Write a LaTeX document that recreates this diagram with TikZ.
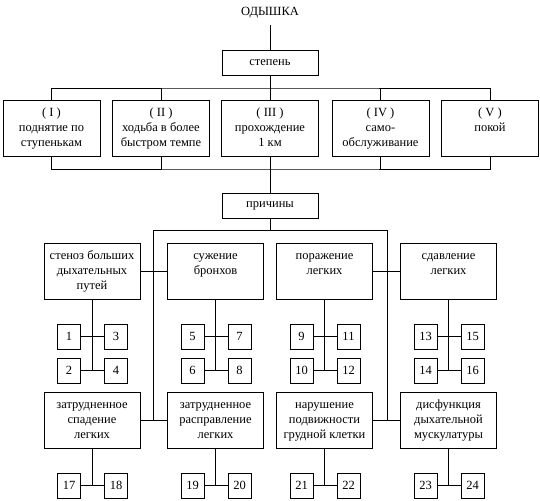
\documentclass[tikz,border=0pt]{standalone}
\usepackage{fontspec}
\setmainfont{Liberation Serif}
\begin{document}
\begin{tikzpicture}[x=1pt,y=-1pt,
  every node/.style={font=\fontsize{12.5}{15}\selectfont},
  ln/.style={line width=0.8pt},
  bigbox/.style={draw, line width=0.8pt, minimum width=97pt, minimum height=56pt, inner sep=0pt},
  midbox/.style={draw, line width=0.8pt, minimum width=96pt, minimum height=25pt, inner sep=0pt},
  sbox/.style={draw, line width=0.8pt, minimum width=23pt, minimum height=25pt, inner sep=0pt},
  txt/.style={anchor=north, align=center, inner sep=0pt, yshift=-6.5pt}
]
\useasboundingbox (0,0) rectangle (540,500);

% title and degree
\node[inner sep=0pt, minimum height=24pt] (title) at (270,13) {ОДЫШКА};
\node[midbox] (st) at (270,62.5) {степень};
\draw[ln] (title.south) -- (st.north);

% grade boxes
\node[bigbox] (g1) at (51.5,128) {};
\node[bigbox] (g2) at (161,128) {};
\node[bigbox] (g3) at (270,128) {};
\node[bigbox] (g4) at (380.5,128) {};
\node[bigbox] (g5) at (490,128) {};
\node[txt] (g1t) at (g1.north) {\strut( I )\\поднятие по\\ступенькам};
\node[txt] (g2t) at (g2.north) {\strut( II )\\ходьба в более\\быстром темпе};
\node[txt] (g3t) at (g3.north) {\strut( III )\\прохождение\\1 км};
\node[txt] (g4t) at (g4.north) {\strut( IV )\\само-\\обслуживание};
\node[txt] (g5t) at (g5.north) {\strut( V )\\покой};

\coordinate (bus1) at (270,88);
\coordinate (bus2) at (270,169);
\draw[ln] (st.south) -- (bus1);
\draw[ln] (g1.north) |- (bus1) -| (g5.north);
\draw[ln] (g2.north) -- (g2.north |- bus1);
\draw[ln] (g3.north) -- (bus1);
\draw[ln] (g4.north) -- (g4.north |- bus1);
\draw[ln] (g1.south) |- (bus2) -| (g5.south);
\draw[ln] (g2.south) -- (g2.south |- bus2);
\draw[ln] (g3.south) -- (bus2);
\draw[ln] (g4.south) -- (g4.south |- bus2);

% causes
\node[midbox] (pr) at (270,205.5) {причины};
\draw[ln] (bus2) -- (pr.north);
\coordinate (bus3) at (270,230);
\coordinate (L) at (153,230);
\coordinate (R) at (387,230);
\draw[ln] (pr.south) -- (bus3);
\draw[ln] (L) -- (R);

\node[bigbox, minimum width=96pt] (c1) at (92,271) {};
\node[bigbox, minimum width=96pt] (c2) at (215.5,271) {};
\node[bigbox, minimum width=96pt] (c3) at (324.5,271) {};
\node[bigbox, minimum width=96pt] (c4) at (448.5,271) {};
\node[txt] (c1t) at (c1.north) {\strut стеноз больших\\дыхательных\\путей};
\node[txt] (c2t) at (c2.north) {\strut сужение\\бронхов};
\node[txt] (c3t) at (c3.north) {\strut поражение\\легких};
\node[txt] (c4t) at (c4.north) {\strut сдавление\\легких};

\node[bigbox, minimum width=96pt] (d1) at (92,420) {};
\node[bigbox, minimum width=96pt] (d2) at (215.5,420) {};
\node[bigbox, minimum width=96pt] (d3) at (324.5,420) {};
\node[bigbox, minimum width=96pt] (d4) at (448.5,420) {};
\node[txt] (d1t) at (d1.north) {\strut затрудненное\\спадение\\легких};
\node[txt] (d2t) at (d2.north) {\strut затрудненное\\расправление\\легких};
\node[txt] (d3t) at (d3.north) {\strut нарушение\\подвижности\\грудной клетки};
\node[txt] (d4t) at (d4.north) {\strut дисфункция\\дыхательной\\мускулатуры};

\draw[ln] (c1.east) -- (c2.west);
\draw[ln] (c3.east) -- (c4.west);
\draw[ln] (d1.east) -- (d2.west);
\draw[ln] (d3.east) -- (d4.west);
\draw[ln] (L) -- (L |- d1.east);
\draw[ln] (R) -- (R |- d3.east);

% small boxes
\foreach \c/\cx/\a/\b/\e/\f in {c1/92/1/2/3/4, c2/215.5/5/6/7/8, c3/324.5/9/10/11/12, c4/448.5/13/14/15/16}{
  \node[sbox] (n\a) at (\cx-23,336.5) {\a};
  \node[sbox] (n\b) at (\cx-23,370.5) {\b};
  \node[sbox] (n\e) at (\cx+24,336.5) {\e};
  \node[sbox] (n\f) at (\cx+24,370.5) {\f};
  \coordinate (j\c) at (\cx,370.5);
  \draw[ln] (\c.south) -- (j\c);
  \draw[ln] (n\a) -- (n\e);
  \draw[ln] (n\b) -- (n\f);
}
\foreach \d/\cx/\a/\b in {d1/92/17/18, d2/215.5/19/20, d3/324.5/21/22, d4/448.5/23/24}{
  \node[sbox] (n\a) at (\cx-23,485.5) {\a};
  \node[sbox] (n\b) at (\cx+24,485.5) {\b};
  \coordinate (j\d) at (\cx,485.5);
  \draw[ln] (\d.south) -- (j\d);
  \draw[ln] (n\a) -- (n\b);
}
\end{tikzpicture}
\end{document}
